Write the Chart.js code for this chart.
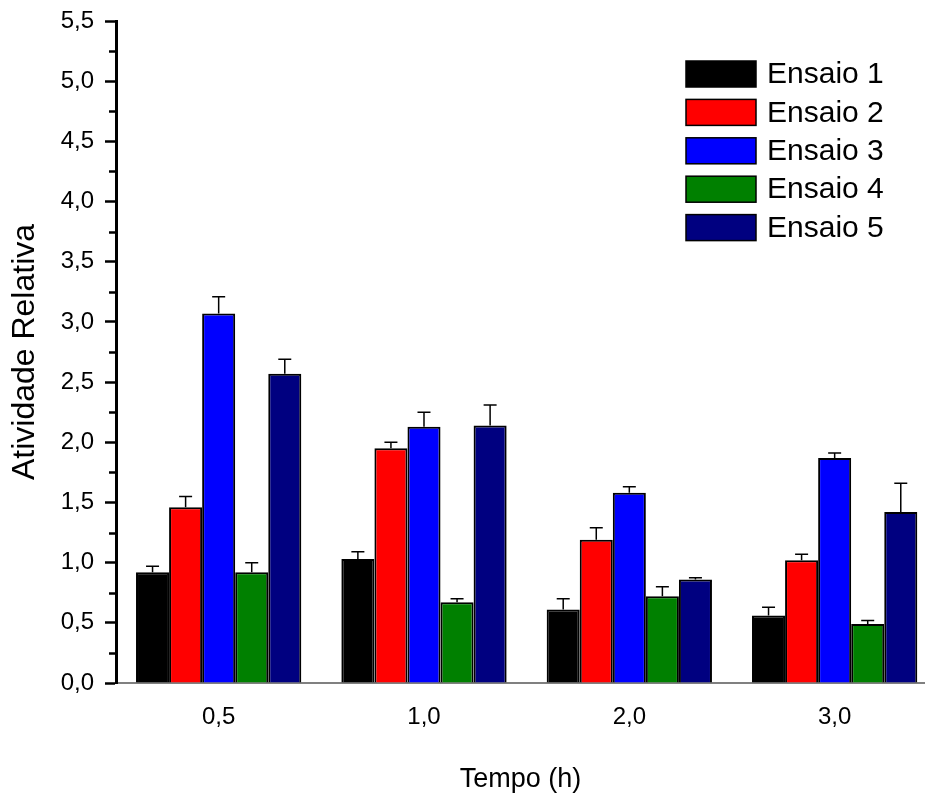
<!DOCTYPE html>
<html lang="pt">
<head>
<meta charset="utf-8">
<title>Atividade Relativa</title>
<script src="https://cdn.jsdelivr.net/npm/chart.js@4/dist/chart.umd.min.js"></script>
<style>
  html, body { margin: 0; padding: 0; background: #fff; }
  #wrap { width: 925px; height: 798px; }
</style>
</head>
<body>
<div id="wrap"><canvas id="grafico" width="925" height="798"></canvas></div>
<script>
// dados
const tempos = ['0,5', '1,0', '2,0', '3,0'];
const nomes = ['Ensaio 1', 'Ensaio 2', 'Ensaio 3', 'Ensaio 4', 'Ensaio 5'];
const cores = ['#000000', '#ff0000', '#0000ff', '#008000', '#000080'];

const ensaio1 = [0.92, 1.03, 0.61, 0.56];
const ensaio2 = [1.46, 1.95, 1.19, 1.02];
const ensaio3 = [3.07, 2.13, 1.58, 1.87];
const ensaio4 = [0.92, 0.67, 0.72, 0.49];
const ensaio5 = [2.57, 2.14, 0.86, 1.42];

const erro1 = [0.05, 0.06, 0.09, 0.07];
const erro2 = [0.09, 0.05, 0.10, 0.05];
const erro3 = [0.14, 0.12, 0.05, 0.04];
const erro4 = [0.08, 0.03, 0.08, 0.03];
const erro5 = [0.12, 0.17, 0.015, 0.24];

const valores = [ensaio1, ensaio2, ensaio3, ensaio4, ensaio5];
const erros = [erro1, erro2, erro3, erro4, erro5];

const fonte = '"Liberation Sans", Arial, sans-serif';

// barras de erro (só para cima, com tampa)
const barrasErro = {
    id: 'barrasErro',
    afterDatasetsDraw(chart) {
        const ctx = chart.ctx;
        const y = chart.scales.y;
        ctx.save();
        ctx.strokeStyle = '#000';
        ctx.lineWidth = 1.5;
        chart.data.datasets.forEach((ds, d) => {
            const meta = chart.getDatasetMeta(d);
            meta.data.forEach((bar, i) => {
                const topo = y.getPixelForValue(ds.data[i].y + ds.erro[i]);
                ctx.beginPath();
                ctx.moveTo(bar.x, bar.y);
                ctx.lineTo(bar.x, topo);
                ctx.moveTo(bar.x - 6.5, topo);
                ctx.lineTo(bar.x + 6.5, topo);
                ctx.stroke();
            });
        });
        ctx.restore();
    }
};

// marcas menores no eixo y + legenda dentro do gráfico
const extras = {
    id: 'extras',
    afterDraw(chart) {
        const ctx = chart.ctx;
        const y = chart.scales.y;
        const esq = chart.chartArea.left;
        ctx.save();
        ctx.strokeStyle = '#000';
        ctx.lineWidth = 2.5;
        for (let v = 0.25; v < 5.5; v += 0.5) {
            const py = Math.round(y.getPixelForValue(v)) + 0.5;
            ctx.beginPath();
            ctx.moveTo(esq - 7, py);
            ctx.lineTo(esq, py);
            ctx.stroke();
        }

        // legenda
        ctx.font = '30px ' + fonte;
        ctx.textBaseline = 'middle';
        ctx.textAlign = 'left';
        chart.data.datasets.forEach((ds, d) => {
            const topo = 61 + d * 38.4;
            ctx.fillStyle = ds.backgroundColor;
            ctx.fillRect(686, topo, 70, 26);
            ctx.lineWidth = 1.5;
            ctx.strokeStyle = '#000';
            ctx.strokeRect(686, topo, 70, 26);
            ctx.fillStyle = '#000';
            ctx.fillText(ds.label, 767, topo + 14);
        });
        ctx.restore();
    }
};

const datasets = nomes.map((nome, d) => ({
    label: nome,
    data: valores[d].map((v, i) => ({ x: i, y: v })),
    erro: erros[d],
    backgroundColor: cores[d],
    borderColor: '#000',
    borderWidth: 2,
    categoryPercentage: 0.805,
    barPercentage: 1.0
}));

new Chart(document.getElementById('grafico').getContext('2d'), {
    type: 'bar',
    data: { datasets: datasets },
    options: {
        responsive: false,
        animation: false,
        layout: { padding: { top: 21, right: 0, bottom: 0, left: 0 } },
        plugins: {
            legend: { display: false },
            tooltip: { enabled: false }
        },
        scales: {
            x: {
                type: 'linear',
                min: -0.5,
                max: 3.44,
                offset: false,
                afterBuildTicks: (scale) => {
                    scale.ticks = tempos.map((_, i) => ({ value: i }));
                },
                afterFit: (scale) => {
                    scale.height = 115;
                    scale.paddingLeft = 0;
                    scale.paddingRight = 0;
                },
                grid: { display: true, drawOnChartArea: false, drawTicks: false },
                border: { color: '#808080', width: 2 },
                ticks: {
                    padding: 20,
                    color: '#000',
                    font: { family: fonte, size: 24 },
                    callback: (v) => tempos[v]
                },
                title: {
                    display: true,
                    text: 'Tempo (h)',
                    color: '#000',
                    font: { family: fonte, size: 27 },
                    padding: { top: 0, bottom: 2 }
                }
            },
            y: {
                min: 0,
                max: 5.5,
                afterFit: (scale) => {
                    scale.width = 116;
                    scale.paddingTop = 0;
                    scale.paddingBottom = 0;
                },
                grid: {
                    drawOnChartArea: false,
                    drawTicks: true,
                    tickLength: 11,
                    tickWidth: 2.5,
                    tickColor: '#000'
                },
                border: { color: '#000', width: 3 },
                ticks: {
                    stepSize: 0.5,
                    padding: 11,
                    color: '#000',
                    font: { family: fonte, size: 24 },
                    callback: (v) => v.toFixed(1).replace('.', ',')
                },
                title: {
                    display: true,
                    text: 'Atividade Relativa',
                    color: '#000',
                    font: { family: fonte, size: 32 },
                    padding: { top: 6, bottom: 0 }
                }
            }
        }
    },
    plugins: [barrasErro, extras]
});
</script>
</body>
</html>
